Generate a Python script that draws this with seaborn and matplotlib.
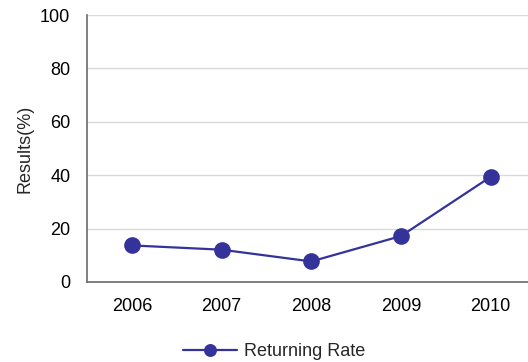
import matplotlib
matplotlib.use("Agg")
import matplotlib.pyplot as plt
import seaborn as sns
import pandas as pd

years = ["2006", "2007", "2008", "2009", "2010"]
returning_rate = [13.7, 12.1, 7.7, 17.2, 39.4]
y_ticks = [0, 20, 40, 60, 80, 100]
series_name = "Returning Rate"

sns.set_theme(style="white")
plt.rcParams["font.family"] = ["Liberation Sans", "DejaVu Sans"]

df = pd.DataFrame({"Year": years, "Rate": returning_rate})

fig = plt.figure(figsize=(5.28, 3.62), dpi=100)
ax = fig.add_axes([87 / 528, 80 / 362, 448.5 / 528, 267 / 362])

color = "#333399"
sns.pointplot(data=df, x="Year", y="Rate", ax=ax, color=color,
              markers="o", markersize=10.8, linewidth=1.6,
              label=series_name, errorbar=None)

ax.set_xlim(-0.5, len(years) - 0.5)
ax.set_ylim(0, 100)
ax.set_yticks(y_ticks)
ax.yaxis.grid(True, color="#d9d9d9", linewidth=1.0)
ax.set_axisbelow(True)

for side in ("top", "right"):
    ax.spines[side].set_visible(False)
for side in ("left", "bottom"):
    ax.spines[side].set_color("#6b6b6b")
    ax.spines[side].set_linewidth(1.2)

ax.tick_params(axis="both", length=0, labelsize=13, colors="#000000")
ax.tick_params(axis="y", pad=12)
ax.tick_params(axis="x", pad=11.5)
ax.set_xlabel("")
ax.set_ylabel("Results(%)", fontsize=13, labelpad=5)

leg = ax.get_legend()
if leg is not None:
    leg.remove()
handles, labels = ax.get_legend_handles_labels()
fig.legend(handles[:1], labels[:1], loc="center",
           bbox_to_anchor=(274 / 528, 1 - 351.7 / 362),
           frameon=False, fontsize=13, handlelength=3.0,
           handletextpad=0.35, markerscale=0.75)

fig.savefig("out.png", dpi=100)
